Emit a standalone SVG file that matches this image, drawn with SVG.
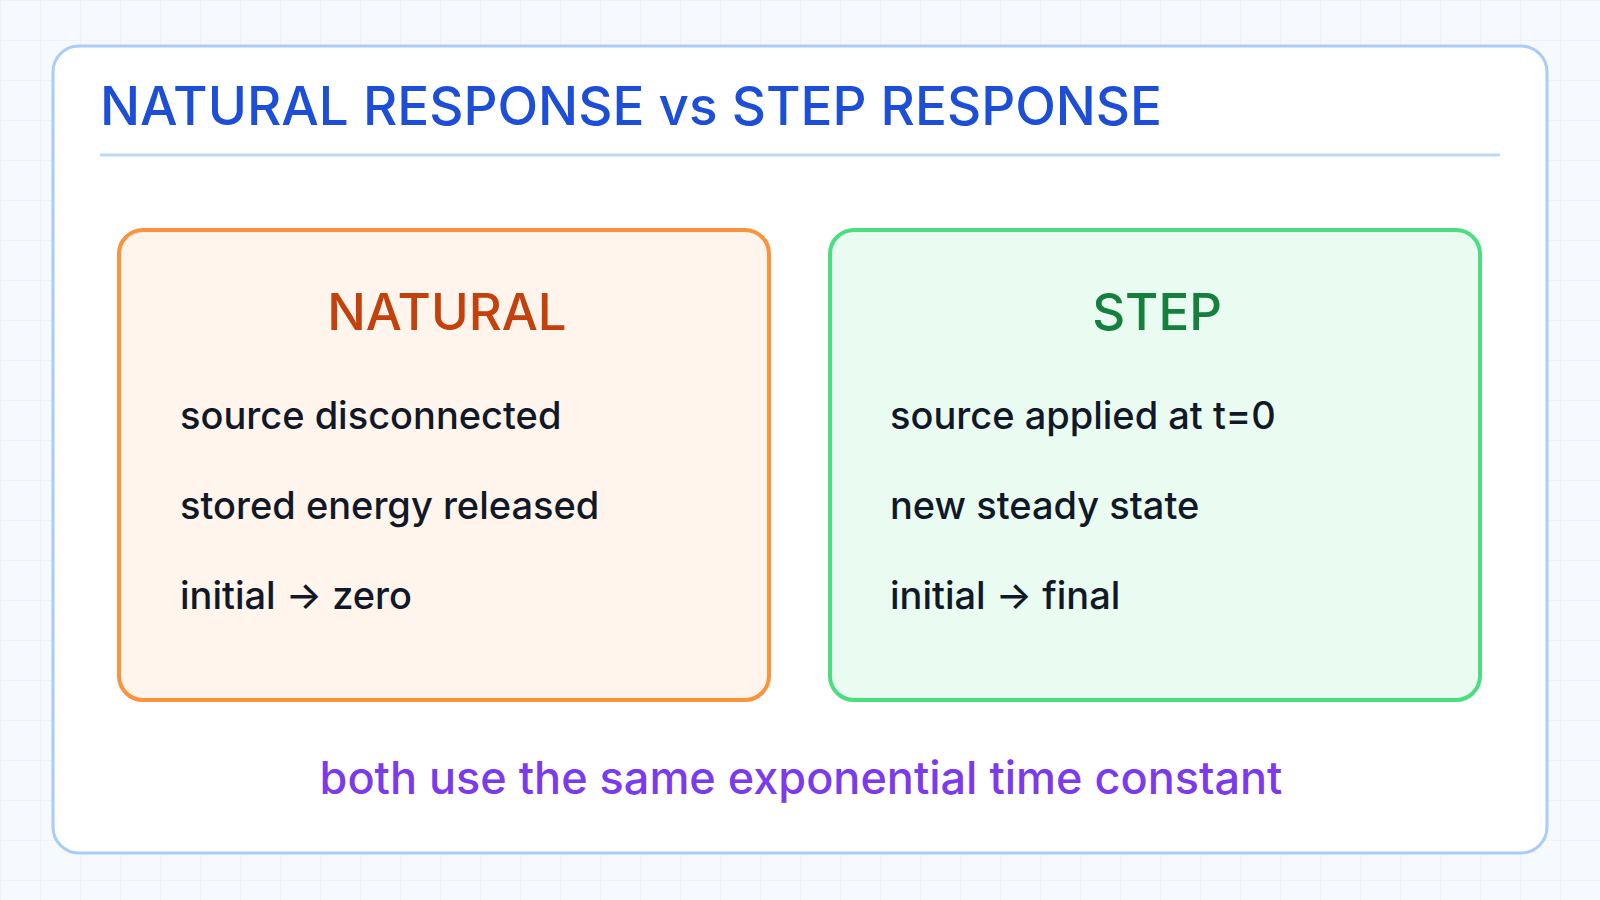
<svg xmlns="http://www.w3.org/2000/svg" width="1600" height="900" viewBox="0 0 1600 900">
<defs>
<pattern id="grid" width="40" height="40" patternUnits="userSpaceOnUse"><path d="M40 0H0V40" fill="none" stroke="#e3ecf8" stroke-width="1"/></pattern>
</defs>
<style>
text{font-family:Inter,"Liberation Sans",Arial,sans-serif;font-weight:500}
.item{font-size:38px;fill:#111827}
.head{font-size:51px;text-anchor:middle}
</style>
<rect width="1600" height="900" fill="#f6f9fe"/>
<rect width="1600" height="900" fill="url(#grid)"/>
<g id="card">
<rect x="53" y="46" width="1494" height="807" rx="26" fill="#ffffff" stroke="#a9cdf7" stroke-width="3"/>
<text x="100" y="125" font-size="53" fill="#1d4ed8">NATURAL RESPONSE vs STEP RESPONSE</text>
<line x1="100" y1="155" x2="1500" y2="155" stroke="#bcd7f7" stroke-width="3"/>
</g>
<g id="natural">
<rect x="119" y="230" width="650" height="470" rx="24" fill="#fff5ec" stroke="#fb923c" stroke-width="4"/>
<text class="head" x="447" y="330" fill="#c2410c">NATURAL</text>
<text class="item" x="180" y="429">source disconnected</text>
<text class="item" x="180" y="519">stored energy released</text>
<text class="item" x="180" y="609">initial → zero</text>
</g>
<g id="step">
<rect x="830" y="230" width="650" height="470" rx="24" fill="#eafbf2" stroke="#4ade80" stroke-width="4"/>
<text class="head" x="1157" y="330" fill="#15803d">STEP</text>
<text class="item" x="890" y="429">source applied at t=0</text>
<text class="item" x="890" y="519">new steady state</text>
<text class="item" x="890" y="609">initial → final</text>
</g>
<g id="connectors"></g>
<g id="footer">
<text x="801" y="794" font-size="45" text-anchor="middle" fill="#7c3aed">both use the same exponential time constant</text>
</g>
</svg>
